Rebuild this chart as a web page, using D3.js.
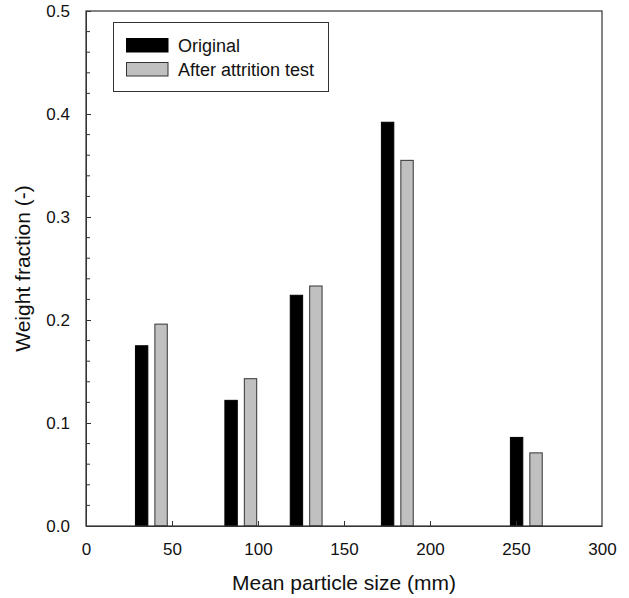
<!DOCTYPE html>
<html>
<head>
<meta charset="utf-8">
<script src="https://cdn.jsdelivr.net/npm/d3@7"></script>
<style>
  html, body { margin: 0; padding: 0; background: #fff; }
  svg text { font-family: "Liberation Sans", Arial, Helvetica, sans-serif; fill: #111; }
</style>
</head>
<body>
<svg id="chart" width="629" height="598"></svg>
<script>
// Mean particle size of each size class (mm)
const sizes = [38, 90, 128, 181, 256];
// Weight fraction per size class
const original = [0.175, 0.122, 0.224, 0.392, 0.086];
const afterAttrition = [0.196, 0.143, 0.233, 0.355, 0.071];
const seriesNames = ["Original", "After attrition test"];
const xTicks = [0, 50, 100, 150, 200, 250, 300];
const yTicks = [0.0, 0.1, 0.2, 0.3, 0.4, 0.5];

const svg = d3.select("#chart");
const margin = { left: 86, right: 27, top: 11, bottom: 72 };
const W = 629, H = 598;

const x = d3.scaleLinear().domain([0, 300]).range([margin.left, W - margin.right]);
const y = d3.scaleLinear().domain([0, 0.5]).range([H - margin.bottom, margin.top]);

const barW = 7.2;     // bar width in mm units
const offset = 5.65;  // half spacing between the paired bars, mm units

const series = [
  { name: seriesNames[0], values: original, fill: "#000000", stroke: "#000000", dx: -offset },
  { name: seriesNames[1], values: afterAttrition, fill: "#c0c0c0", stroke: "#333333", dx: offset }
];

// bars
series.forEach(s => {
  svg.append("g").selectAll("rect")
    .data(sizes.map((m, i) => ({ m, v: s.values[i] })))
    .join("rect")
    .attr("x", d => x(d.m + s.dx - barW / 2))
    .attr("width", d => x(d.m + s.dx + barW / 2) - x(d.m + s.dx - barW / 2))
    .attr("y", d => y(d.v))
    .attr("height", d => y(0) - y(d.v))
    .attr("fill", s.fill)
    .attr("stroke", s.stroke)
    .attr("stroke-width", 1);
});

// frame
svg.append("rect")
  .attr("x", x(0)).attr("y", y(0.5))
  .attr("width", x(300) - x(0)).attr("height", y(0) - y(0.5))
  .attr("fill", "none").attr("stroke", "#333").attr("stroke-width", 1.2);

// x axis: inward ticks
const xAxis = svg.append("g")
  .attr("transform", `translate(0,${y(0)})`)
  .call(d3.axisBottom(x).tickValues(xTicks).tickSizeInner(-5).tickSizeOuter(0).tickPadding(17)
    .tickFormat(d3.format("d")));
xAxis.select(".domain").attr("stroke", "#333");
xAxis.selectAll(".tick line").attr("stroke", "#333");
xAxis.selectAll(".tick line").filter(d => d === 0 || d === 300).remove();
xAxis.selectAll("text").style("font-size", "17px");

// y axis: inward major and minor ticks
const yMinor = d3.range(0, 0.5001, 0.02).filter(v => Math.abs(v * 10 - Math.round(v * 10)) > 1e-6);
svg.append("g").selectAll("line").data(yMinor).join("line")
  .attr("x1", x(0)).attr("x2", x(0) + 4)
  .attr("y1", d => y(d)).attr("y2", d => y(d))
  .attr("stroke", "#333");
const yAxis = svg.append("g")
  .attr("transform", `translate(${x(0)},0)`)
  .call(d3.axisLeft(y).tickValues(yTicks).tickSizeInner(-5).tickSizeOuter(0).tickPadding(16)
    .tickFormat(d3.format(".1f")));
yAxis.select(".domain").attr("stroke", "#333");
yAxis.selectAll(".tick line").attr("stroke", "#333");
yAxis.selectAll("text").style("font-size", "17px");

// axis titles
svg.append("text")
  .attr("x", x(150)).attr("y", 590)
  .attr("text-anchor", "middle")
  .style("font-size", "21px")
  .text("Mean particle size (mm)");
svg.append("text")
  .attr("transform", `translate(30,${(y(0) + y(0.5)) / 2}) rotate(-90)`)
  .attr("text-anchor", "middle")
  .style("font-size", "21px")
  .text("Weight fraction (-)");

// legend
const lg = svg.append("g");
lg.append("rect")
  .attr("x", 113.5).attr("y", 22.5).attr("width", 215).attr("height", 69)
  .attr("fill", "#fff").attr("stroke", "#333").attr("stroke-width", 1);
series.forEach((s, i) => {
  const yy = 38.5 + i * 24;
  lg.append("rect")
    .attr("x", 126.5).attr("y", yy).attr("width", 41.5).attr("height", 13.5)
    .attr("fill", s.fill).attr("stroke", s.stroke).attr("stroke-width", 1);
  lg.append("text")
    .attr("x", 178).attr("y", yy + 13)
    .style("font-size", "18px")
    .text(s.name);
});
</script>
</body>
</html>
